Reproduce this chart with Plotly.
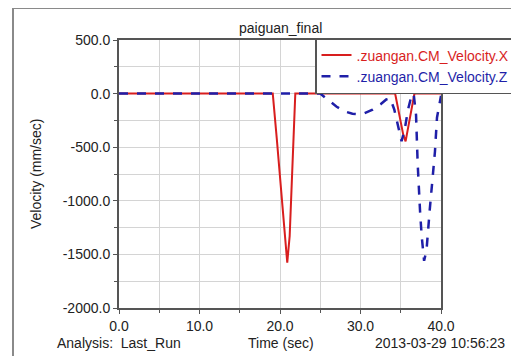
import plotly.graph_objects as go

# ---- data ----
time_x = [0.0, 19.1, 19.6, 20.1, 20.6, 20.9, 21.2, 21.5, 21.9, 34.3, 34.8, 35.3, 35.6, 35.9, 36.3, 36.7, 40.0]
vel_x = [0.0, 0.0, -420, -850, -1330, -1577, -1330, -720, 0.0, 0.0, -190, -380, -446, -330, -150, 0.0, 0.0]

time_z = [0.0, 25.0, 26.0, 27.0, 28.0, 29.0, 29.6, 30.5, 31.5, 32.5, 33.2, 33.7, 34.2, 34.7, 35.1, 35.5, 35.9, 36.3,
          36.6, 36.9, 37.1, 37.4, 37.6, 37.9, 38.2, 38.6, 39.0, 39.25, 39.5, 39.75, 40.0]
vel_z = [0.0, 0.0, -60, -120, -165, -188, -192, -182, -150, -100, -55, -45, -150, -320, -445, -330, -150, -30,
         0.0, -200, -650, -1100, -1330, -1560, -1460, -1085, -720, -540, -225, -100, -20]

y_ticks = [500, 0, -500, -1000, -1500, -2000]
y_tick_labels = ["500.0", "0.0", "-500.0", "-1000.0", "-1500.0", "-2000.0"]
x_ticks = [0, 10, 20, 30, 40]
x_tick_labels = ["0.0", "10.0", "20.0", "30.0", "40.0"]

RED = "#d81e1e"
BLUE = "#1f1fa8"
FONT = "Liberation Sans, Arial, sans-serif"

fig = go.Figure()
fig.add_trace(go.Scatter(
    x=time_x, y=vel_x, mode="lines",
    line=dict(color=RED, width=2),
    name=f"<span style='color:{RED}'>.zuangan.CM_Velocity.X</span>",
))
fig.add_trace(go.Scatter(
    x=time_z, y=vel_z, mode="lines",
    line=dict(color=BLUE, width=2.5, dash="dash"),
    name=f"<span style='color:{BLUE}'>.zuangan.CM_Velocity.Z</span>",
))

# page has an 8px body margin: figure is placed at (8, 8) in the window
OFF = 8
L, R, T, B = 119 - OFF, 441 - OFF, 40 - OFF, 308 - OFF
W, H = 519 - OFF, 356 - OFF
pw, ph = R - L, B - T


def px(x):
    return (x - OFF - L) / pw


def py(y):
    return (B - (y - OFF)) / ph


axis_common = dict(
    showline=True, linecolor="#555555", linewidth=2, mirror=True,
    showgrid=True, gridcolor="#d4d4d4", gridwidth=1,
    ticks="outside", ticklen=4, tickcolor="#555555",
    tickfont=dict(family=FONT, size=14, color="#222222"),
    zeroline=False, automargin=False,
)

fig.update_layout(
    width=W, height=H,
    margin=dict(l=L, r=W - R, t=T, b=H - B, pad=0, autoexpand=False),
    paper_bgcolor="white", plot_bgcolor="white",
    font=dict(family=FONT, size=14, color="#222222"),
    showlegend=True,
    legend=dict(
        x=px(315), y=py(38), xanchor="left", yanchor="top",
        bgcolor="white", bordercolor="#555555", borderwidth=1.5,
        font=dict(family=FONT, size=14),
        tracegroupgap=0, itemwidth=30,
    ),
    xaxis=dict(
        range=[0, 40], tickvals=x_ticks, ticktext=x_tick_labels,
        minor=dict(dtick=5, showgrid=True, gridcolor="#d4d4d4", ticks="outside", ticklen=3, tickcolor="#555555"),
        **axis_common,
    ),
    yaxis=dict(
        range=[-2000, 500], tickvals=y_ticks, ticktext=y_tick_labels,
        minor=dict(dtick=250, tick0=0, showgrid=True, gridcolor="#d4d4d4", ticks="outside", ticklen=3, tickcolor="#555555"),
        **axis_common,
    ),
    shapes=[dict(
        type="rect", xref="paper", yref="paper",
        x0=px(13), x1=px(540), y0=py(380), y1=py(8),
        line=dict(color="#8a8a8a", width=2), fillcolor="rgba(0,0,0,0)", layer="below",
    )],
    annotations=[
        dict(text="paiguan_final", x=px(280), y=py(28), xref="paper", yref="paper",
             showarrow=False, xanchor="center", yanchor="middle", font=dict(size=14)),
        dict(text="Velocity (mm/sec)", x=px(36), y=py(174), xref="paper", yref="paper",
             showarrow=False, textangle=-90, xanchor="center", yanchor="middle", font=dict(size=14)),
        dict(text="Analysis:  Last_Run", x=px(55), y=py(343), xref="paper", yref="paper",
             showarrow=False, xanchor="left", yanchor="middle", font=dict(size=14)),
        dict(text="Time (sec)", x=px(281), y=py(343), xref="paper", yref="paper",
             showarrow=False, xanchor="center", yanchor="middle", font=dict(size=14)),
        dict(text="2013-03-29 10:56:23", x=px(507), y=py(343), xref="paper", yref="paper",
             showarrow=False, xanchor="right", yanchor="middle", font=dict(size=14)),
    ],
)

fig.write_html("out.html")
